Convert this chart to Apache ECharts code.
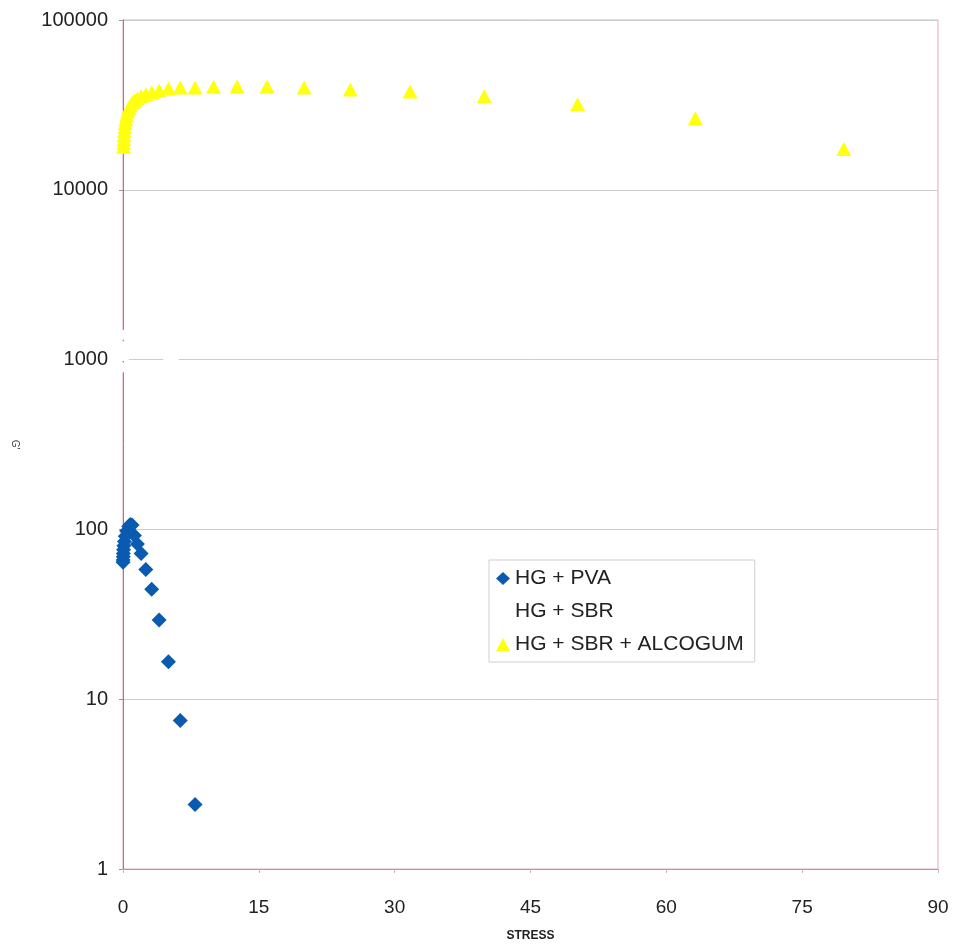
<!DOCTYPE html>
<html>
<head>
<meta charset="utf-8">
<script src="https://cdn.jsdelivr.net/npm/echarts@6/dist/echarts.min.js"></script>
<style>
  html, body { margin: 0; padding: 0; background: #ffffff; }
  #chart { width: 957px; height: 947px; }
</style>
</head>
<body>
<div id="chart"></div>
<script>
// Stress sweep and modulus G' for each mixture
const pvaStress = [0.01, 0.0158, 0.0251, 0.0398, 0.0631, 0.1, 0.158, 0.251, 0.398, 0.631, 0.794, 1, 1.26, 1.59, 2, 2.52, 3.17, 3.99, 5.02, 6.32, 7.96];
const pvaG      = [64, 66, 69, 72, 76, 80, 85, 91, 98, 104, 107, 106, 92, 82, 72, 58, 44.4, 29.3, 16.6, 7.5, 2.4];

const sbrStress = [0.05, 0.1, 0.2, 0.4, 0.8, 5.0, 5.6];
const sbrG      = [900, 1050, 1200, 1400, 1600, 980, 1000];

const alcStress = [0.0631, 0.0794, 0.1, 0.126, 0.158, 0.2, 0.251, 0.316, 0.398, 0.501, 0.631, 0.794, 1, 1.26, 1.59, 2, 2.52, 3.17, 3.99, 5.02, 6.32, 7.96, 10, 12.6, 15.9, 20, 25.1, 31.7, 39.9, 50.2, 63.2, 79.6];
const alcG      = [17900, 18900, 19900, 21000, 22200, 23400, 24700, 26000, 27500, 29000, 30200, 31400, 32700, 33600, 34500, 35500, 36500, 37500, 38500, 39500, 40000, 40100, 40400, 40600, 40600, 40100, 39000, 37900, 35500, 31900, 26400, 17400];

const xTicks = [0, 15, 30, 45, 60, 75, 90];
const seriesNames = ['HG + PVA', 'HG + SBR', 'HG + SBR + ALCOGUM'];

function pairs(xs, ys) { return xs.map((x, i) => [x, ys[i]]); }

const chart = echarts.init(document.getElementById('chart'), null, { renderer: 'canvas' });
const font = 'Liberation Sans, Arial, sans-serif';

chart.setOption({
  backgroundColor: '#ffffff',
  animation: false,
  grid: {
    left: 123, right: 19, top: 20, bottom: 70,
    show: true, borderColor: '#e6a6bd', borderWidth: 1, backgroundColor: '#ffffff'
  },
  legend: {
    orient: 'vertical',
    left: 489, top: 560,
    padding: [8, 11, 7, 7],
    itemGap: 12,
    itemWidth: 14, itemHeight: 13,
    borderColor: '#cfcfcf', borderWidth: 1,
    backgroundColor: '#ffffff',
    textStyle: { fontFamily: font, fontSize: 21, color: '#222' },
    data: seriesNames
  },
  xAxis: {
    type: 'value',
    min: 0, max: 90, interval: 15,
    name: 'STRESS', nameLocation: 'middle', nameGap: 61,
    nameTextStyle: { fontFamily: font, fontSize: 12, fontWeight: 'bold', color: '#222' },
    axisLine: { show: true, onZero: false, lineStyle: { color: '#c9909f', width: 1 } },
    axisTick: { show: true, length: 4, lineStyle: { color: '#bbbbbb' } },
    axisLabel: {
      fontFamily: font, fontSize: 19, color: '#222', margin: 29,
      formatter: v => xTicks.includes(v) ? String(v) : ''
    },
    splitLine: { show: false }
  },
  yAxis: {
    type: 'log', logBase: 10,
    min: 1, max: 100000,
    name: "G'", nameLocation: 'middle', nameGap: 103, nameRotate: -90,
    nameTextStyle: { fontFamily: font, fontSize: 10, color: '#444' },
    axisLine: { show: true, lineStyle: { color: '#a57888', width: 1 } },
    axisTick: { show: true, length: 4, lineStyle: { color: '#999999' } },
    axisLabel: {
      fontFamily: font, fontSize: 20, color: '#222', margin: 15,
      formatter: v => String(Math.round(v))
    },
    splitLine: { show: true, lineStyle: { color: '#cdcdcd', width: 1 } }
  },
  series: [
    {
      name: seriesNames[0], type: 'scatter', symbol: 'diamond', symbolSize: 15,
      itemStyle: { color: '#0a5bb0', opacity: 1 },
      data: pairs(pvaStress, pvaG), z: 4
    },
    {
      name: seriesNames[1], type: 'scatter', symbol: 'rect', symbolSize: 10,
      itemStyle: { color: '#ffffff', opacity: 1 },
      data: pairs(sbrStress, sbrG), z: 3
    },
    {
      name: seriesNames[2], type: 'scatter', symbol: 'triangle', symbolSize: [15, 14],
      itemStyle: { color: '#ffff10', opacity: 1 },
      data: pairs(alcStress, alcG), z: 4
    }
  ]
});
</script>
</body>
</html>
